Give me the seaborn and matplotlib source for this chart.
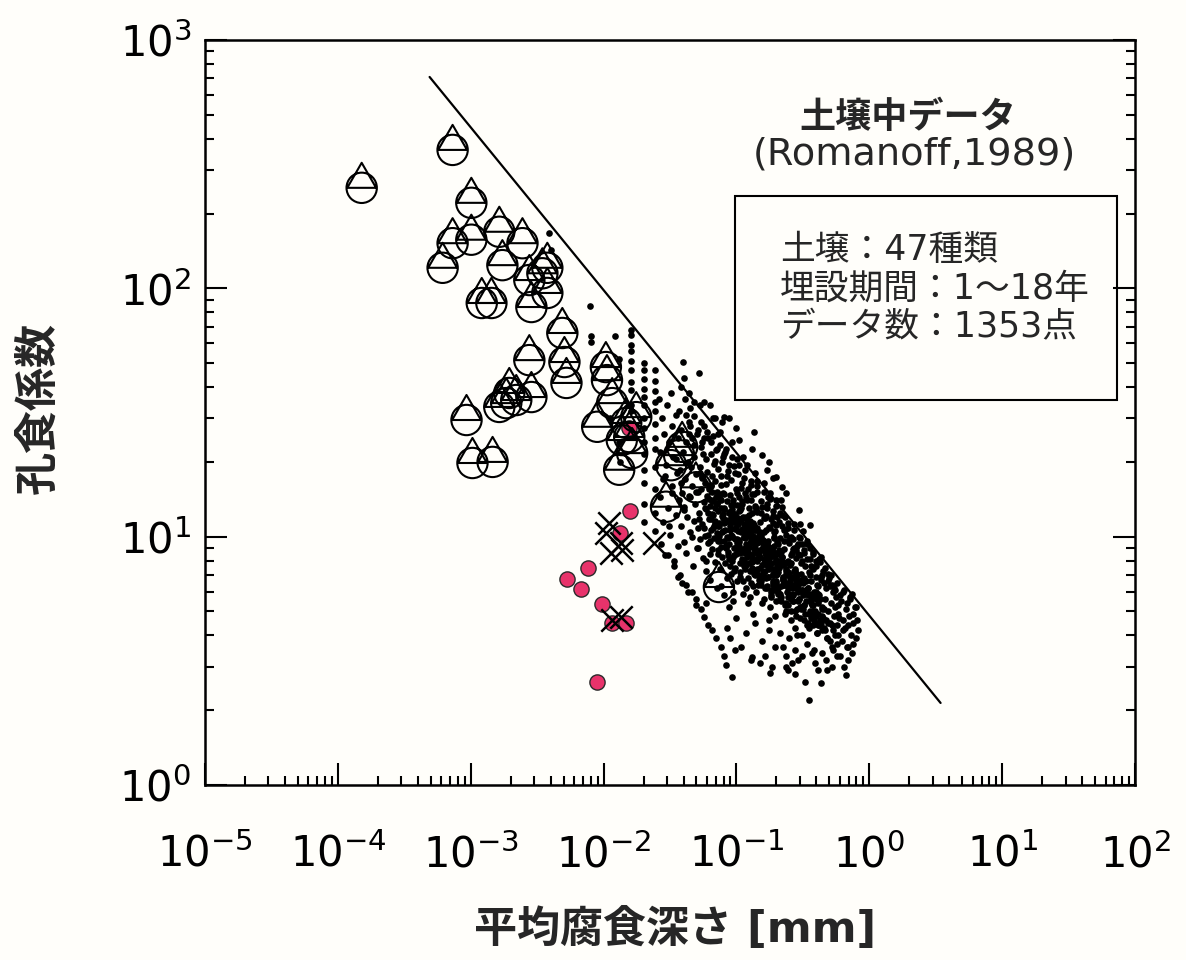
import matplotlib
matplotlib.use("Agg")
import matplotlib.pyplot as plt
from matplotlib.path import Path
from matplotlib.markers import MarkerStyle
from matplotlib.patches import Rectangle
from matplotlib.ticker import LogLocator, NullFormatter
import seaborn as sns

# ---------------------------------------------------------------
# Pitting factor vs. mean corrosion depth, soil burial data
# ---------------------------------------------------------------

# Axis ticks
x_ticks = [1e-5, 1e-4, 1e-3, 1e-2, 1e-1, 1e0, 1e1, 1e2]
x_tick_labels = [r"$10^{-5}$", r"$10^{-4}$", r"$10^{-3}$", r"$10^{-2}$",
                 r"$10^{-1}$", r"$10^{0}$", r"$10^{1}$", r"$10^{2}$"]
y_ticks = [1e0, 1e1, 1e2, 1e3]
y_tick_labels = [r"$10^{0}$", r"$10^{1}$", r"$10^{2}$", r"$10^{3}$"]

# Upper bound line
bound_x = [4.9e-4, 3.44]
bound_y = [710, 2.14]

# Open circle/triangle markers
drop_x = [1.51e-4, 7.30e-4, 1.01e-3, 1.01e-3, 7.30e-4, 6.14e-4, 1.64e-3, 1.73e-3, 2.45e-3, 3.77e-3,
          2.76e-3, 3.46e-3, 2.86e-3, 3.77e-3, 1.21e-3, 1.43e-3, 4.89e-3, 2.76e-3, 5.07e-3, 5.25e-3,
          1.85e-3, 2.20e-3, 2.86e-3, 1.95e-3, 1.64e-3, 9.29e-4, 1.03e-3, 1.46e-3, 1.04e-2, 1.06e-2,
          1.16e-2, 8.95e-3, 1.76e-2, 1.56e-2, 1.64e-2, 1.31e-2, 1.48e-2, 3.22e-2, 3.90e-2, 2.95e-2,
          4.95e-2, 7.38e-2, 3.70e-2, 1.37e-2]
drop_y = [254, 361, 221, 157, 152, 121, 169, 124, 152, 121,
          108, 115, 84.1, 95.8, 87.3, 87.3, 66.1, 51.4, 50.5, 41.6,
          34.5, 35.5, 36.5, 37.9, 33.3, 29.5, 19.8, 20.0, 48.2, 42.7,
          34.5, 27.7, 30.3, 25.2, 21.7, 18.6, 28.7, 19.4, 23.0, 13.2,
          15.8, 6.27, 21.3, 24.5]

# Filled red markers
red_x = [1.56e-2, 1.58e-2, 1.33e-2, 7.66e-3, 5.32e-3, 6.79e-3, 9.75e-3, 1.16e-2, 1.48e-2, 8.95e-3]
red_y = [27.4, 12.7, 10.3, 7.48, 6.75, 6.15, 5.35, 4.49, 4.49, 2.60]

# Cross markers
cross_x = [1.10e-2, 1.04e-2, 1.35e-2, 1.14e-2, 1.37e-2, 2.40e-2, 1.16e-2, 1.35e-2]
cross_y = [11.4, 10.3, 9.43, 8.60, 8.83, 9.43, 4.62, 4.75]

# Small dots: sparse points and measurement columns at small depth
sparse_x = [0.0039, 0.0040, 0.0079, 0.0080, 0.0081, 0.0121, 0.0130, 0.0131, 0.0112, 0.0134]
sparse_y = [167, 143, 85, 64, 61, 64, 52, 24, 30, 20]

col1_x = [0.0162, 0.0162, 0.0162, 0.0162, 0.0162, 0.0162, 0.0162, 0.0162, 0.0162, 0.0162, 0.0162, 0.0162]
col1_y = [68, 65, 59, 56, 51, 47, 42, 39, 34, 32, 28, 25.5]

col2_x = [0.0200, 0.0200, 0.0200, 0.0200, 0.0200, 0.0200, 0.0200,
          0.0200, 0.0200, 0.0200, 0.0200, 0.0200, 0.0200, 0.0200]
col2_y = [50, 47, 43, 39.5, 36.5, 34, 30, 27.5, 24, 21.5, 18.5, 16.5, 13.5, 11.5]

col3_x = [0.0245, 0.0245, 0.0245, 0.0245, 0.0245, 0.0245, 0.0245, 0.0245, 0.0245, 0.0245, 0.0245, 0.0245]
col3_y = [47, 42.5, 38.5, 35, 32, 28.5, 25, 22.5, 19, 15.5, 12.5, 10.5]

# Small dots: main cloud, by depth range
cloud1_x = [0.0262, 0.0265, 0.0268, 0.0270, 0.0275, 0.0278, 0.0282, 0.0285, 0.0290, 0.0295,
            0.0300, 0.0305, 0.0310, 0.0315, 0.0320, 0.0325, 0.0330, 0.0335, 0.0340, 0.0348,
            0.0352, 0.0358, 0.0362, 0.0366, 0.0370]
cloud1_y = [36, 14.5, 22, 9.3, 30, 17, 11.5, 26, 8.4, 19.5,
            34, 13, 24, 10.2, 38, 16, 28, 21, 8.0, 12.2,
            31, 18, 9.2, 25, 14]

cloud2_x = [0.0372, 0.0375, 0.0378, 0.0382, 0.0385, 0.0388, 0.0392, 0.0396, 0.0400, 0.0404,
            0.0408, 0.0412, 0.0416, 0.0420, 0.0425, 0.0430, 0.0435, 0.0440, 0.0445, 0.0450,
            0.0455, 0.0460, 0.0465, 0.0470, 0.0475, 0.0480, 0.0486, 0.0492, 0.0498, 0.0503,
            0.0508, 0.0512, 0.0516, 0.0385, 0.0445]
cloud2_y = [32, 7.0, 18.5, 11, 27, 6.5, 15, 22, 9.5, 13.2,
            36, 17, 8.6, 24, 12, 20, 6.0, 29, 14.4, 10.4,
            19, 16, 25, 7.6, 11.6, 21, 13.5, 5.3, 17.8, 9.0,
            26, 15.2, 10.8, 40, 33]

trail_x = [0.0305, 0.0340, 0.0365, 0.0420, 0.0460, 0.0500, 0.0540, 0.0570,
           0.0610, 0.0650, 0.0700, 0.0760, 0.0800, 0.0840, 0.0930]
trail_y = [8.4, 7.6, 6.9, 6.4, 6.0, 5.6, 5.1, 4.75, 4.4, 4.2, 3.9, 3.6, 3.3, 3.05, 2.72]

cloud3_x = [0.0525, 0.0530, 0.0535, 0.0540, 0.0545, 0.0550, 0.0555, 0.0560, 0.0565, 0.0570,
            0.0575, 0.0580, 0.0585, 0.0590, 0.0595, 0.0600, 0.0605, 0.0610, 0.0615, 0.0620,
            0.0625, 0.0630, 0.0635, 0.0640, 0.0645, 0.0650, 0.0655, 0.0660, 0.0665, 0.0670,
            0.0675, 0.0680, 0.0685, 0.0690, 0.0695, 0.0700, 0.0705, 0.0710, 0.0715, 0.0720,
            0.0722, 0.0726, 0.0730, 0.0734, 0.0738, 0.0528, 0.0588, 0.0648, 0.0708, 0.0555]
cloud3_y = [12.5, 19, 9.8, 15.5, 23, 11.2, 17.2, 8.2, 13.8, 28,
            10.1, 16.4, 20.5, 12.9, 7.3, 14.6, 18.2, 9.4, 25, 11.8,
            15.9, 6.7, 13.3, 21.5, 10.6, 17.6, 8.9, 12.3, 30, 14.1,
            19.6, 9.9, 16.8, 11.4, 7.9, 13.6, 22.4, 10.3, 15.1, 18.7,
            8.5, 12.7, 26, 14.8, 11.0, 34, 5.4, 16.2, 6.2, 24]

cloud4_x = [0.0745, 0.0750, 0.0755, 0.0760, 0.0765, 0.0770, 0.0775, 0.0780, 0.0785, 0.0790,
            0.0795, 0.0800, 0.0806, 0.0812, 0.0818, 0.0824, 0.0830, 0.0836, 0.0842, 0.0848,
            0.0854, 0.0860, 0.0866, 0.0872, 0.0878, 0.0884, 0.0890, 0.0896, 0.0902, 0.0908,
            0.0914, 0.0920, 0.0926, 0.0932, 0.0938, 0.0944, 0.0950, 0.0956, 0.0962, 0.0968,
            0.0974, 0.0980, 0.0986, 0.0992, 0.0998, 0.1004, 0.1010, 0.1016, 0.1022, 0.1028,
            0.1034, 0.1040, 0.0758, 0.0803, 0.0851, 0.0893, 0.0935, 0.0977, 0.1013, 0.0781]
cloud4_y = [11.3, 7.4, 14.2, 9.1, 17.5, 6.3, 12.1, 20, 8.3, 10.5,
            15.0, 5.8, 13.1, 9.6, 22, 7.8, 11.7, 16.3, 6.8, 10.0,
            13.9, 8.7, 18.4, 12.5, 5.2, 9.3, 14.7, 11.0, 7.1, 16.9,
            10.2, 12.9, 8.0, 24, 6.0, 11.5, 14.0, 9.0, 19.2, 7.5,
            12.2, 10.7, 4.7, 15.6, 8.5, 13.4, 9.8, 6.6, 11.9, 17.8,
            8.8, 14.5, 26.5, 21.5, 4.3, 3.9, 5.5, 3.5, 20.5, 29]

cloud5_x = [0.105, 0.106, 0.107, 0.108, 0.109, 0.110, 0.111, 0.112, 0.113, 0.114,
            0.115, 0.116, 0.117, 0.118, 0.119, 0.120, 0.121, 0.122, 0.123, 0.124,
            0.125, 0.126, 0.127, 0.128, 0.129, 0.130, 0.131, 0.132, 0.133, 0.134,
            0.135, 0.136, 0.137, 0.138, 0.139, 0.140, 0.141, 0.142, 0.143, 0.144,
            0.145, 0.146, 0.1055, 0.1075, 0.1095, 0.1115, 0.1135, 0.1155, 0.1175, 0.1195,
            0.1215, 0.1235, 0.1255, 0.1275, 0.1295, 0.1315, 0.1335, 0.1355, 0.1375, 0.1395,
            0.1415, 0.1435, 0.1455, 0.108, 0.118, 0.128, 0.138, 0.112, 0.132, 0.142]
cloud5_y = [9.2, 12.8, 6.9, 15.7, 10.4, 8.1, 13.6, 5.9, 11.2, 17.3,
            7.4, 9.9, 14.5, 6.2, 12.0, 8.6, 19.5, 10.9, 5.4, 13.1,
            7.8, 11.6, 9.4, 16.1, 6.5, 12.4, 8.3, 14.9, 10.1, 4.9,
            11.0, 7.1, 13.3, 9.0, 18.0, 6.0, 10.6, 12.6, 8.0, 15.2,
            9.6, 7.0, 11.8, 8.9, 13.9, 6.6, 10.0, 15.0, 7.7, 11.4,
            9.1, 12.2, 5.7, 10.3, 14.0, 8.4, 6.3, 11.1, 9.5, 7.3,
            13.0, 10.8, 8.5, 3.6, 4.1, 3.2, 4.5, 21.0, 22.5, 16.8]

cloud6_x = [0.148, 0.150, 0.152, 0.154, 0.156, 0.158, 0.160, 0.162, 0.164, 0.166,
            0.168, 0.170, 0.172, 0.174, 0.176, 0.178, 0.180, 0.182, 0.184, 0.186,
            0.188, 0.190, 0.192, 0.194, 0.196, 0.198, 0.200, 0.202, 0.204, 0.206,
            0.149, 0.151, 0.153, 0.155, 0.157, 0.159, 0.161, 0.163, 0.165, 0.167,
            0.169, 0.171, 0.173, 0.175, 0.177, 0.179, 0.181, 0.183, 0.185, 0.187,
            0.189, 0.191, 0.193, 0.195, 0.197, 0.199, 0.201, 0.203, 0.205, 0.207,
            0.155, 0.165, 0.175, 0.185, 0.195, 0.160, 0.170, 0.180, 0.190, 0.200]
cloud6_y = [8.7, 11.5, 6.4, 9.8, 13.2, 7.2, 10.4, 5.6, 8.1, 12.1,
            6.8, 9.3, 14.4, 7.6, 10.9, 5.2, 8.5, 11.8, 6.1, 9.0,
            12.7, 7.0, 10.0, 4.8, 8.3, 11.1, 6.6, 9.5, 7.9, 5.9,
            10.2, 7.5, 12.4, 8.9, 5.4, 9.7, 11.9, 7.3, 6.2, 10.6,
            8.0, 13.6, 6.9, 9.1, 4.6, 10.8, 7.8, 5.8, 8.8, 11.3,
            6.4, 9.9, 7.4, 10.5, 5.5, 8.6, 12.0, 7.1, 9.3, 6.0,
            3.8, 3.3, 4.2, 3.0, 3.6, 16.5, 18.5, 15.0, 17.2, 14.0]

cloud7_x = [0.210, 0.213, 0.216, 0.219, 0.222, 0.225, 0.228, 0.231, 0.234, 0.237,
            0.240, 0.243, 0.246, 0.249, 0.252, 0.255, 0.258, 0.261, 0.264, 0.267,
            0.270, 0.273, 0.276, 0.279, 0.282, 0.285, 0.288, 0.291, 0.211, 0.217,
            0.223, 0.229, 0.235, 0.241, 0.247, 0.253, 0.259, 0.265, 0.271, 0.277,
            0.283, 0.289, 0.214, 0.226, 0.238, 0.250, 0.262, 0.274, 0.286, 0.220,
            0.232, 0.244, 0.256, 0.268, 0.280, 0.292, 0.215, 0.245, 0.275, 0.290]
cloud7_y = [7.6, 9.9, 5.7, 8.3, 11.0, 6.4, 8.9, 4.9, 7.1, 10.2,
            6.0, 8.0, 5.3, 9.4, 6.8, 7.7, 4.6, 8.6, 6.2, 5.5,
            7.3, 9.0, 4.3, 6.6, 8.2, 5.1, 7.0, 6.1, 12.5, 8.7,
            6.9, 10.6, 5.0, 7.9, 9.7, 6.3, 8.4, 5.8, 11.2, 7.4,
            4.8, 9.3, 4.1, 3.6, 3.3, 3.9, 3.1, 3.5, 4.0, 13.2,
            12.0, 10.8, 10.0, 9.8, 8.8, 8.5, 14.0, 2.9, 2.8, 3.2]

cloud8_x = [0.296, 0.300, 0.304, 0.308, 0.312, 0.316, 0.320, 0.325, 0.330, 0.335,
            0.340, 0.345, 0.350, 0.355, 0.360, 0.365, 0.370, 0.375, 0.380, 0.385,
            0.390, 0.395, 0.400, 0.405, 0.410, 0.298, 0.306, 0.314, 0.322, 0.332,
            0.342, 0.352, 0.362, 0.372, 0.382, 0.392, 0.402, 0.412, 0.302, 0.318,
            0.338, 0.358, 0.378, 0.398, 0.310, 0.350, 0.390, 0.328, 0.368, 0.408]
cloud8_y = [6.5, 8.4, 5.2, 7.1, 9.3, 5.8, 6.8, 4.6, 7.6, 5.5,
            8.1, 6.2, 4.3, 7.0, 5.9, 6.6, 4.9, 7.4, 5.3, 6.0,
            4.5, 6.9, 5.6, 4.1, 6.3, 10.0, 7.8, 4.0, 8.8, 6.1,
            3.7, 7.2, 4.7, 5.7, 3.5, 5.0, 6.4, 4.4, 11.2, 10.5,
            9.6, 9.0, 8.5, 8.0, 3.3, 2.2, 3.1, 2.6, 3.4, 2.9]

cloud9_x = [0.420, 0.428, 0.436, 0.444, 0.452, 0.460, 0.468, 0.476, 0.484, 0.492,
            0.500, 0.508, 0.516, 0.524, 0.532, 0.540, 0.548, 0.556, 0.564, 0.572,
            0.580, 0.424, 0.440, 0.456, 0.472, 0.488, 0.504, 0.520, 0.536, 0.552,
            0.568, 0.584, 0.432, 0.480, 0.528]
cloud9_y = [5.8, 4.6, 6.7, 5.1, 7.3, 4.2, 5.6, 6.2, 3.9, 5.0,
            6.8, 4.5, 5.4, 3.6, 6.0, 4.8, 5.2, 4.0, 5.7, 4.4,
            4.9, 7.9, 3.4, 6.5, 3.2, 7.1, 3.8, 6.4, 3.5, 6.1,
            3.3, 5.3, 8.3, 2.9, 3.0]

cloud10_x = [0.595, 0.610, 0.625, 0.640, 0.655, 0.670, 0.685, 0.700, 0.715, 0.730,
             0.745, 0.760, 0.775, 0.790, 0.805, 0.820, 0.603, 0.648, 0.692, 0.738]
cloud10_y = [4.7, 5.5, 3.8, 6.1, 4.3, 5.1, 3.6, 4.8, 5.6, 4.0,
             3.4, 4.5, 5.2, 3.9, 4.6, 4.2, 3.3, 3.0, 3.2, 5.9]

# Dense core of the cloud
core_x = [0.061, 0.063, 0.066, 0.068, 0.071, 0.073, 0.076, 0.078, 0.081, 0.083,
          0.086, 0.088, 0.091, 0.093, 0.096, 0.098, 0.101, 0.103, 0.106, 0.108,
          0.111, 0.113, 0.116, 0.118, 0.121, 0.123, 0.126, 0.128, 0.131, 0.133,
          0.136, 0.138, 0.141, 0.143, 0.146, 0.149, 0.152, 0.156, 0.159, 0.162,
          0.166, 0.169, 0.173, 0.176, 0.181, 0.185, 0.189, 0.193, 0.198, 0.203,
          0.208, 0.213, 0.219, 0.224, 0.230, 0.236, 0.243, 0.249, 0.256, 0.263,
          0.270, 0.278, 0.286, 0.294, 0.303, 0.312, 0.322, 0.332, 0.343, 0.355,
          0.367, 0.380, 0.394, 0.408, 0.423, 0.439, 0.456, 0.474, 0.062, 0.067,
          0.072, 0.077, 0.082, 0.087, 0.092, 0.097, 0.102, 0.107, 0.112, 0.117,
          0.122, 0.127, 0.132, 0.137, 0.142, 0.147, 0.153, 0.158, 0.164, 0.170,
          0.177, 0.183, 0.190, 0.197, 0.205, 0.212, 0.221, 0.229, 0.238, 0.247,
          0.257, 0.267, 0.278, 0.290, 0.302, 0.315, 0.329, 0.344, 0.360, 0.377,
          0.395, 0.414, 0.434, 0.064, 0.069, 0.074, 0.079, 0.084, 0.089, 0.094,
          0.099, 0.104, 0.109, 0.114, 0.119, 0.124, 0.129, 0.134, 0.139, 0.144,
          0.150, 0.155, 0.161, 0.167, 0.174, 0.180, 0.187, 0.194, 0.201, 0.209,
          0.217, 0.226, 0.234, 0.244, 0.253, 0.264, 0.274, 0.285, 0.297, 0.310]
core_y = [12.4, 9.6, 15.1, 11.0, 13.7, 8.8, 16.2, 10.4, 12.9, 9.2,
          11.6, 8.1, 13.4, 10.0, 7.3, 12.3, 9.4, 11.2, 8.6, 13.0,
          10.7, 7.6, 9.0, 11.9, 8.3, 6.8, 10.2, 9.7, 7.9, 11.3,
          8.9, 10.6, 7.2, 9.4, 6.4, 8.2, 10.1, 7.7, 9.1, 6.9,
          8.4, 6.2, 9.6, 7.4, 5.7, 8.8, 7.0, 9.2, 6.5, 8.0,
          7.5, 5.9, 8.3, 6.7, 5.3, 7.8, 6.2, 7.1, 5.6, 6.9,
          6.4, 5.0, 7.0, 5.6, 4.7, 6.1, 5.3, 6.6, 4.5, 5.8,
          5.4, 4.4, 6.0, 4.9, 5.6, 4.2, 5.1, 4.6, 14.2, 10.8,
          9.9, 14.0, 11.5, 8.4, 12.6, 9.0, 10.5, 7.8, 12.0, 9.3,
          8.7, 10.4, 7.5, 9.8, 8.1, 6.7, 9.5, 7.1, 8.6, 6.3,
          7.9, 9.0, 6.6, 8.5, 7.2, 5.6, 8.0, 6.4, 7.4, 5.9,
          6.8, 5.5, 7.3, 6.0, 5.2, 6.5, 4.9, 6.2, 5.0, 5.7,
          4.8, 5.9, 4.5, 11.8, 13.1, 10.1, 11.9, 9.0, 10.6, 8.3,
          10.9, 9.5, 11.7, 8.0, 10.3, 9.1, 8.4, 11.0, 7.0, 9.9,
          8.3, 9.7, 7.8, 8.9, 6.9, 7.6, 8.6, 6.1, 7.7, 8.8,
          6.3, 7.7, 5.4, 7.0, 6.6, 5.8, 7.2, 6.3, 5.6, 6.1]

# Upper part of the band, just under the bound line
upper_x = [0.042, 0.045, 0.048, 0.051, 0.054, 0.057, 0.060, 0.064, 0.067, 0.071,
           0.075, 0.079, 0.083, 0.088, 0.093, 0.098, 0.104, 0.110, 0.116, 0.122,
           0.129, 0.136, 0.144, 0.152, 0.160, 0.169, 0.178, 0.188, 0.198, 0.209,
           0.220, 0.232, 0.245, 0.258, 0.272, 0.287, 0.303, 0.320, 0.337, 0.355,
           0.375, 0.395, 0.417, 0.440, 0.464, 0.489, 0.516, 0.544, 0.574, 0.606,
           0.639, 0.674, 0.711, 0.750, 0.790, 0.044, 0.056, 0.069, 0.085, 0.101,
           0.120, 0.140, 0.165, 0.193, 0.227, 0.266, 0.312, 0.366, 0.430, 0.505]
upper_y = [31, 28, 30.5, 27, 29, 25, 26.5, 24, 25.5, 22.5,
           23.5, 21, 22.5, 19.5, 21, 18, 19.5, 16.5, 18.5, 15.5,
           16.8, 14.8, 16.0, 13.9, 15.1, 13.0, 14.2, 12.1, 13.3, 11.5,
           12.2, 10.6, 11.4, 9.9, 10.6, 9.2, 9.9, 8.6, 9.3, 8.1,
           8.7, 7.6, 8.1, 7.0, 7.5, 6.6, 7.0, 6.2, 6.5, 5.8,
           6.0, 5.4, 5.7, 4.9, 5.2, 26, 21.5, 20.2, 17.5, 15.0,
           14.0, 12.8, 11.9, 10.4, 9.6, 8.9, 8.0, 7.6, 6.9, 6.3]

# Middle of the band
mid_x = [0.050, 0.052, 0.055, 0.058, 0.061, 0.064, 0.067, 0.070, 0.073, 0.077,
         0.080, 0.084, 0.088, 0.092, 0.096, 0.100, 0.105, 0.110, 0.115, 0.120,
         0.125, 0.131, 0.137, 0.143, 0.150, 0.157, 0.164, 0.171, 0.179, 0.187,
         0.196, 0.205, 0.214, 0.224, 0.234, 0.245, 0.256, 0.268, 0.280, 0.293,
         0.306, 0.320, 0.335, 0.350, 0.366, 0.383, 0.400, 0.418, 0.437, 0.457,
         0.051, 0.057, 0.063, 0.069, 0.075, 0.082, 0.089, 0.097, 0.106, 0.116,
         0.127, 0.139, 0.152, 0.166, 0.181, 0.198, 0.216, 0.236, 0.258, 0.282,
         0.308, 0.337, 0.368, 0.402, 0.440, 0.481, 0.526, 0.575, 0.629, 0.688,
         0.038, 0.040, 0.042, 0.044, 0.046, 0.048, 0.033, 0.035, 0.031, 0.029,
         0.059, 0.065, 0.072, 0.079, 0.087, 0.094, 0.103, 0.113, 0.124, 0.135,
         0.147, 0.160, 0.174, 0.189, 0.206, 0.224, 0.244, 0.266, 0.290, 0.316,
         0.344, 0.375, 0.409, 0.446, 0.486, 0.530, 0.578, 0.630, 0.687, 0.749,
         0.053, 0.062, 0.071, 0.081, 0.091, 0.104, 0.118, 0.133, 0.151, 0.171]
mid_y = [15.2, 11.8, 17.4, 13.1, 10.2, 16.0, 12.2, 14.4, 9.6, 13.0,
         11.4, 9.2, 12.6, 10.1, 8.4, 11.8, 9.7, 7.9, 10.8, 9.0,
         10.1, 8.0, 9.4, 7.4, 8.8, 6.9, 9.2, 7.7, 8.3, 6.5,
         7.9, 6.2, 8.5, 6.8, 7.3, 5.7, 7.8, 6.3, 6.9, 5.5,
         6.7, 5.3, 6.1, 4.9, 5.6, 4.6, 5.9, 4.4, 5.2, 4.3,
         9.0, 10.8, 8.5, 11.6, 9.6, 10.6, 7.6, 9.8, 7.2, 8.6,
         7.3, 8.7, 6.6, 7.9, 6.0, 7.0, 5.5, 6.5, 5.0, 6.2,
         5.1, 4.4, 5.3, 4.1, 4.8, 3.9, 4.4, 3.7, 4.2, 3.6,
         16.5, 12.8, 19.8, 14.6, 10.0, 23.5, 15.0, 20.5, 11.0, 17.5,
         8.0, 13.9, 11.0, 12.3, 9.9, 13.5, 11.4, 10.0, 11.1, 9.3,
         9.8, 8.1, 8.9, 7.1, 8.0, 6.7, 7.2, 5.9, 6.4, 5.1,
         5.8, 5.0, 5.4, 4.7, 4.5, 4.2, 4.0, 4.6, 4.4, 3.7,
         18.0, 15.5, 13.6, 14.9, 12.0, 12.7, 11.9, 10.6, 10.4, 9.5]

edge_x = [0.0396, 0.0403, 0.0522, 0.0439, 0.0479, 0.0569, 0.063, 0.069, 0.0805, 0.0877,
          0.099, 0.104, 0.135, 0.155, 0.175, 0.198, 0.220, 0.235, 0.294, 0.360]
edge_y = [50.5, 43.5, 45.5, 38, 35, 34.8, 34, 30, 30.3, 30,
          27.5, 24.5, 26.3, 21.3, 19.9, 17.4, 15.8, 15, 12.8, 11.1]

low_x = [0.180, 0.130, 0.235, 0.430, 0.670, 0.150]
low_y = [2.83, 3.28, 3.0, 2.57, 2.77, 3.1]

title_text = "土壌中データ"
source_text = "(Romanoff,1989)"
info_lines = ["土壌：47種類", "埋設期間：1〜18年", "データ数：1353点"]
x_label = "平均腐食深さ [mm]"
y_label = "孔食係数"

# ---------------------------------------------------------------
paper = "#fffefa"
pink = "#e8336b"

sns.set_theme(style="ticks")
plt.rcParams["font.family"] = ["DejaVu Sans", "Noto Sans CJK JP"]
plt.rcParams["mathtext.fontset"] = "dejavusans"
plt.rcParams["axes.linewidth"] = 1.8
plt.rcParams["axes.edgecolor"] = "black"

fig = plt.figure(figsize=(11.86, 9.6), dpi=100, facecolor=paper)
ax = fig.add_axes([0.1729, 0.1823, 0.7841, 0.7760], facecolor=paper)
ax.set_xscale("log")
ax.set_yscale("log")

dot_x = (sparse_x + col1_x + col2_x + col3_x + cloud1_x + cloud2_x + trail_x + cloud3_x
         + cloud4_x + cloud5_x + cloud6_x + cloud7_x + cloud8_x + cloud9_x + cloud10_x
         + core_x + upper_x + mid_x + edge_x + low_x)
dot_y = (sparse_y + col1_y + col2_y + col3_y + cloud1_y + cloud2_y + trail_y + cloud3_y
         + cloud4_y + cloud5_y + cloud6_y + cloud7_y + cloud8_y + cloud9_y + cloud10_y
         + core_y + upper_y + mid_y + edge_y + low_y)

# small dots
sns.scatterplot(x=dot_x, y=dot_y, ax=ax, color="black", s=23, linewidth=0, marker="o", zorder=2)

# bound line
sns.lineplot(x=bound_x, y=bound_y, ax=ax, color="black", linewidth=1.6, zorder=2)

# red filled circles
sns.scatterplot(x=red_x, y=red_y, ax=ax, color=pink, edgecolor="#2a2a2a", linewidth=1.0,
                s=120, marker="o", zorder=3)

# circle with a triangle standing on its centre line, drawn as one open marker
tri = Path([(0.95, 0.0), (0.0, 1.65), (-0.95, 0.0), (0.95, 0.0)],
           [Path.MOVETO, Path.LINETO, Path.LINETO, Path.LINETO])
drop_path = Path.make_compound_path(Path.unit_circle(), tri)
drop_marker = MarkerStyle(drop_path, fillstyle="none")
sns.scatterplot(x=drop_x, y=drop_y, ax=ax, color="black", marker=drop_marker,
                s=1300, linewidth=1.5, zorder=4)

# crosses
sns.scatterplot(x=cross_x, y=cross_y, ax=ax, color="black", marker="x",
                s=260, linewidth=1.8, zorder=5)

ax.set_xlim(1e-5, 1e2)
ax.set_ylim(1, 1e3)

ax.set_xticks(x_ticks, x_tick_labels)
ax.set_yticks(y_ticks, y_tick_labels)
ax.xaxis.set_minor_locator(LogLocator(base=10, subs=(2, 3, 4, 5, 6, 7, 8, 9), numticks=100))
ax.yaxis.set_minor_locator(LogLocator(base=10, subs=(2, 3, 4, 5, 6, 7, 8, 9), numticks=100))
ax.xaxis.set_minor_formatter(NullFormatter())
ax.yaxis.set_minor_formatter(NullFormatter())

ax.tick_params(axis="x", which="both", direction="in", bottom=True, top=False,
               labelsize=30, pad=35, colors="black")
ax.tick_params(axis="y", which="both", direction="in", left=True, right=True,
               labelsize=30, pad=10, colors="black")
ax.tick_params(which="major", length=16, width=1.5)
ax.tick_params(which="minor", length=6.5, width=1.5)
for sp in ax.spines.values():
    sp.set_visible(True)
    sp.set_linewidth(1.8)

ax.set_xlabel(x_label, fontsize=31, fontweight="bold")
ax.xaxis.set_label_coords(0.505, -0.165)
ax.set_ylabel(y_label, fontsize=31, fontweight="bold")
ax.yaxis.set_label_coords(-0.156, 0.506)

ax.text(0.756, 0.895, title_text, transform=ax.transAxes, ha="center", va="center",
        fontsize=26, fontweight="bold")
ax.text(0.763, 0.846, source_text, transform=ax.transAxes, ha="center", va="center",
        fontsize=27.5)

ax.add_patch(Rectangle((0.570, 0.517), 0.411, 0.274, transform=ax.transAxes,
                       fill=False, edgecolor="black", linewidth=1.5, zorder=6))
for line, ypos in zip(info_lines, [0.718, 0.666, 0.615]):
    ax.text(0.618, ypos, line, transform=ax.transAxes, ha="left", va="center", fontsize=25)

fig.savefig("out.png", dpi=100, facecolor=paper)
